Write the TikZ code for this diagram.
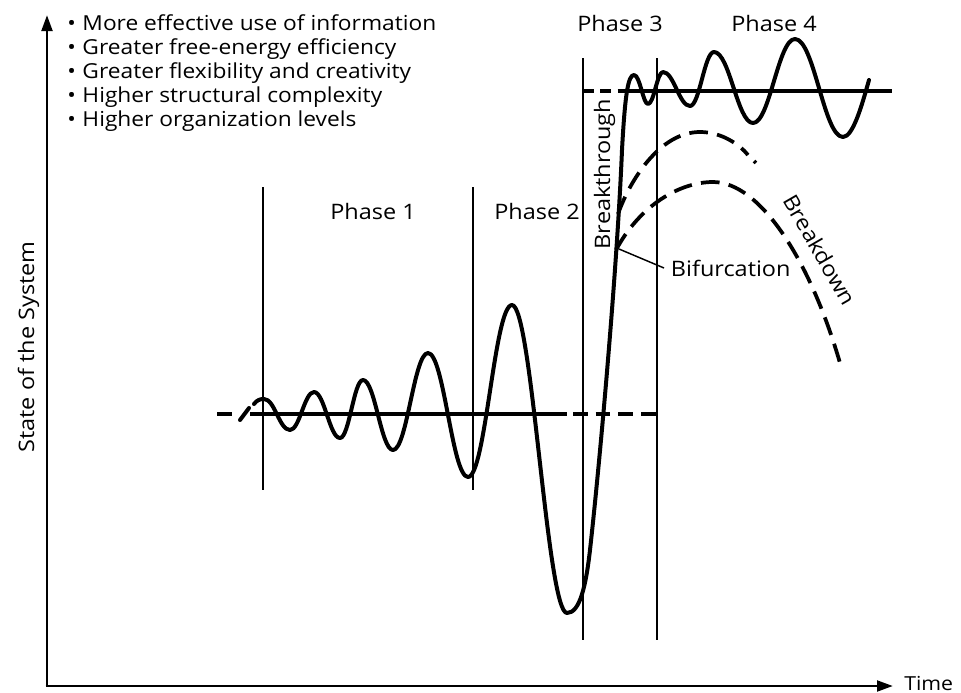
\documentclass[tikz,border=0pt]{standalone}
\usepackage{fontspec}
\setmainfont{Open Sans}[FakeStretch=1.1]
\usetikzlibrary{arrows.meta}
\begin{document}
\begin{tikzpicture}[x=0.75pt,y=-0.75pt,
  axis/.style={line width=2.2pt,-{Triangle[length=12pt,width=8pt]}},
  phaseline/.style={line width=1.1pt},
  wave/.style={line width=3pt,line cap=round,line join=round},
  level/.style={line width=2.6pt},
  branch/.style={line width=2.8pt,dash pattern=on 14pt off 7pt},
  lbl/.style={font=\fontsize{16}{19}\selectfont,inner sep=0pt},
  item/.style={font=\fontsize{15.5}{18}\selectfont,inner sep=0pt,anchor=base west},
]
\useasboundingbox (0,0) rectangle (961,693);

% axes
\coordinate (origin) at (47,686);
\coordinate (ytip) at (47,15);
\coordinate (xtip) at (893,686);
\draw[axis] ([yshift=1]origin) -- (ytip);
\draw[axis] ([xshift=-1]origin) -- (xtip);
\node[lbl,font=\fontsize{14.5}{17}\selectfont,anchor=base west] (time) at (904,690) {Time};
\node[lbl,rotate=90,anchor=base] (state) at (34,347) {State of the System};

% list of properties
\node[item] (b1) at (67,30) {\textbullet\hspace{5pt}More effective use of information};
\node[item] (b2) at (67,54) {\textbullet\hspace{5pt}Greater free-energy efficiency};
\node[item] (b3) at (67,78) {\textbullet\hspace{5pt}Greater flexibility and creativity};
\node[item] (b4) at (67,102) {\textbullet\hspace{5pt}Higher structural complexity};
\node[item] (b5) at (67,126) {\textbullet\hspace{5pt}Higher organization levels};

% phase boundaries
\draw[phaseline] (263,187) -- (263,490);
\draw[phaseline] (473,187) -- (473,490);
\draw[phaseline] (583,58) -- (583,640);
\draw[phaseline] (657,58) -- (657,640);

% phase labels
\node[lbl,anchor=base] (p1) at (373,219) {Phase 1};
\node[lbl,anchor=base] (p2) at (537,219) {Phase 2};
\node[lbl,anchor=base] (p3) at (620,31) {Phase 3};
\node[lbl,anchor=base] (p4) at (774,31) {Phase 4};

% reference levels
\draw[level] (217,414) -- (232,414);
\draw[level] (250,414) -- (567,414);
\draw[level,dash pattern=on 11pt off 6pt] (573,414) -- (657,414);
\draw[level,dash pattern=on 8pt off 5pt] (583,91) -- (620,91);
\draw[level] (620,91) -- (892,91);

% fluctuations of the system
\draw[wave] (240,420) -- (249,408);
\draw[wave] (254,404) .. controls (257,400) and (260,399) .. (264,399)
 .. controls (274.8,399) and (279.2,430) .. (290,430)
 .. controls (299.6,430) and (304.4,392) .. (314,392)
 .. controls (324.4,392) and (329.6,438) .. (340,438)
 .. controls (349.2,438) and (353.8,380) .. (363,380)
 .. controls (375,380) and (381,450) .. (393,450)
 .. controls (407,450) and (414,353) .. (428,353)
 .. controls (444,353) and (452,477) .. (468,477)
 .. controls (485.6,477) and (494.4,305) .. (512,305)
 .. controls (532,305) and (547,613) .. (567,613)
 .. controls (580,613) and (586,585) .. (590,550)
 .. controls (600,460) and (617,270) .. (622,150)
 .. controls (625,95) and (628,75) .. (634,75)
 .. controls (640,75) and (643,104) .. (648,104)
 .. controls (654,104) and (657,72) .. (663,72)
 .. controls (673.8,72) and (679.2,106) .. (690,106)
 .. controls (699.6,106) and (704.4,52) .. (714,52)
 .. controls (729.6,52) and (737.4,123) .. (753,123)
 .. controls (769.8,123) and (778.2,39) .. (795,39)
 .. controls (814.2,39) and (823.8,137) .. (843,137)
 .. controls (853,137) and (862,105) .. (869,80);

% alternative paths after the bifurcation
\coordinate (upstart) at (618,214);
\coordinate (lowstart) at (616,250);
\draw[branch] (upstart) .. controls (630,180) and (660,132) .. (700,132)
  .. controls (722,132) and (740,145) .. (748,155);
\draw[branch,dash pattern=on 2pt off 2pt] (754,161) -- (756,163);
\draw[branch] (lowstart) .. controls (640,205) and (680,182) .. (713,182)
  .. controls (760,182) and (810,260) .. (840,363);

% labels
\coordinate (bif) at (619,249);
\node[lbl,anchor=west,inner xsep=5pt] (bifurc) at (664,268) {Bifurcation};
\draw[line width=1.1pt] (bif) -- (bifurc.west);
\node[lbl,rotate=90,anchor=base] (brk) at (610,174) {Breakthrough};
\node[lbl,rotate=-60] (bdn) at (820,250) {Breakdown};
\end{tikzpicture}
\end{document}
